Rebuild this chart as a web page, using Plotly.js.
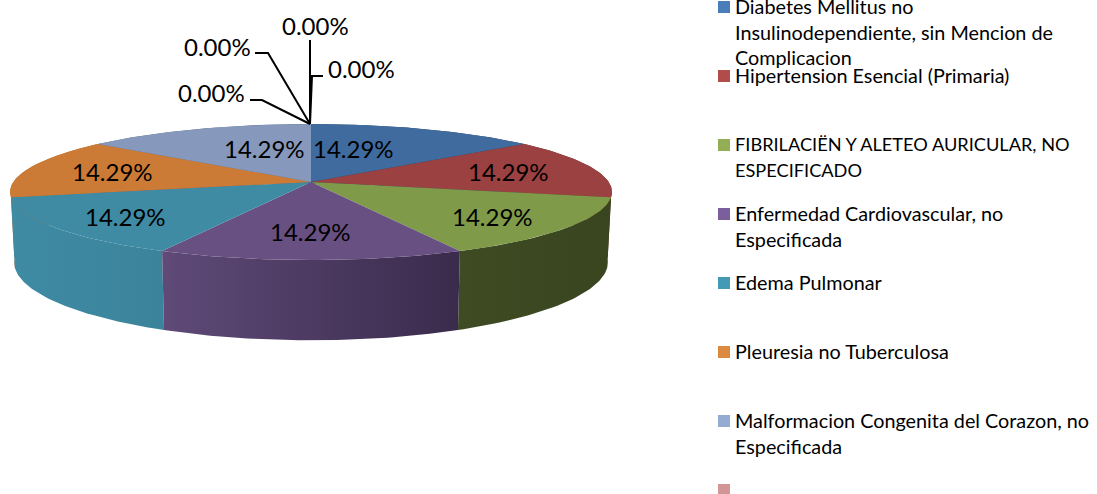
<!DOCTYPE html>
<html>
<head>
<meta charset="utf-8">
<script src="https://cdn.plot.ly/plotly-3.0.1.min.js"></script>
<style>html,body{margin:0;padding:0;background:#fff;overflow:hidden}</style>
</head>
<body>
<div id="chart" style="width:1097px;height:494px"></div>
<script>
// Data
const values = [1, 1, 1, 1, 1, 1, 1, 0, 0, 0, 0];
const categories = [
  "Diabetes Mellitus no Insulinodependiente, sin Mencion de Complicacion",
  "Hipertension Esencial (Primaria)",
  "FIBRILACIËN Y ALETEO AURICULAR, NO ESPECIFICADO",
  "Enfermedad Cardiovascular, no Especificada",
  "Edema Pulmonar",
  "Pleuresia no Tuberculosa",
  "Malformacion Congenita del Corazon, no Especificada",
  ""
];
const legendLines = [
  ["Diabetes Mellitus no", "Insulinodependiente, sin Mencion de", "Complicacion"],
  ["Hipertension Esencial (Primaria)"],
  ["FIBRILACIËN Y ALETEO AURICULAR, NO", "ESPECIFICADO"],
  ["Enfermedad Cardiovascular, no", "Especificada"],
  ["Edema Pulmonar"],
  ["Pleuresia no Tuberculosa"],
  ["Malformacion Congenita del Corazon, no", "Especificada"],
  []
];
const legendY = [7, 76, 145, 214, 283, 352, 421, 490];
const legendLineStep = 25.5;
const topColors = ["#3f6b9e", "#9c4141", "#7f9a48", "#685083", "#3e8ba3", "#cb7b36", "#8699bd"];
const swatchColors = ["#4a7ebb", "#b04c4a", "#93ae55", "#7a5f9c", "#439ab5", "#dc8a3f", "#94abd2", "#d39697"];
const sideScales = [
  ["#2a4466", "#2a4466"],
  ["#6a2c2c", "#6a2c2c"],
  ["#3f4b22", "#39451f"],
  ["#5f4a78", "#3a2b4c"],
  ["#3e8ba3", "#3b839b"],
  ["#b96f30", "#b96f30"],
  ["#5a6a88", "#5a6a88"]
];
const sliceLabelPos = [[353,148],[508,171],[492,216],[310,231],[125,216],[112,171],[264,148]];
const zeroLabelPos = [[211,92],[217,46],[315,25],[361,68]];
const zeroLeaders = [
  [[250,100],[262,100],[310,124]],
  [[255,53],[268,53],[310,124]],
  [[310,40],[310,124]],
  [[323,76],[312,76],[310,124]]
];

// Projection of the tilted disc
const cx = 311, cy = 182, R = 297.7, RY = 66.5, P = 0.147, D = 68.5, BOTTOM_X = 0.987;
function proj(deg, lower) {
  const t = deg * Math.PI / 180, s = 1 / (1 + P * Math.cos(t));
  return lower
    ? [cx + R * Math.sin(t) * s * BOTTOM_X, cy - RY * Math.cos(t) * s + D * s]
    : [cx + R * Math.sin(t) * s, cy - RY * Math.cos(t) * s];
}
const total = values.reduce((a, b) => a + b, 0);
const slices = [];
let acc = 0;
values.forEach((v, i) => {
  const a0 = acc / total * 360; acc += v;
  slices.push({ i, a0, a1: acc / total * 360, pct: (v / total * 100).toFixed(2) + "%" });
});
const visible = slices.filter(s => s.a1 > s.a0);
function arc(s, lower) {
  const out = [], n = 48;
  for (let k = 0; k <= n; k++) out.push(proj(s.a0 + (s.a1 - s.a0) * k / n, lower));
  return out;
}
const traces = [];
// sides, back to front
[...visible].sort((a, b) =>
  Math.cos((a.a0 + a.a1) * Math.PI / 360) < Math.cos((b.a0 + b.a1) * Math.PI / 360) ? 1 : -1
).forEach(s => {
  const pts = arc(s, false).concat(arc(s, true).reverse());
  pts.push(pts[0]);
  const c = sideScales[s.i];
  traces.push({
    type: "scatter", mode: "lines", x: pts.map(p => p[0]), y: pts.map(p => p[1]),
    fill: "toself", line: { width: 0, color: c[0] },
    fillgradient: { type: "horizontal", colorscale: [[0, c[0]], [1, c[1]]] },
    hoverinfo: "skip", showlegend: false
  });
});
// top faces
visible.forEach(s => {
  const pts = [[cx, cy]].concat(arc(s, false), [[cx, cy]]);
  traces.push({
    type: "scatter", mode: "lines", x: pts.map(p => p[0]), y: pts.map(p => p[1]),
    fill: "toself", fillcolor: topColors[s.i], line: { width: 0, color: topColors[s.i] },
    name: categories[s.i], hoverinfo: "skip", showlegend: false
  });
});
// leader lines
zeroLeaders.forEach(l => traces.push({
  type: "scatter", mode: "lines", x: l.map(p => p[0]), y: l.map(p => p[1]),
  line: { color: "#000", width: 2 }, hoverinfo: "skip", showlegend: false
}));
// legend swatches
traces.push({
  type: "scatter", mode: "markers",
  x: legendY.map(() => 724), y: legendY,
  marker: { symbol: "square", size: 12, color: swatchColors, line: { width: 0 } },
  hoverinfo: "skip", showlegend: false
});

const FONT = "Lato, Carlito, Calibri, sans-serif";
const annotations = [];
function addText(text, x, y, size, anchor) {
  annotations.push({ text, x, y, xref: "x", yref: "y", showarrow: false,
    xanchor: anchor, yanchor: "middle", font: { family: FONT, size, color: "#000" },
    borderpad: 0, borderwidth: 0 });
}
visible.forEach((s, k) => addText(s.pct, sliceLabelPos[k][0], sliceLabelPos[k][1], 24, "center"));
slices.filter(s => s.a1 === s.a0).forEach((s, k) => addText(s.pct, zeroLabelPos[k][0], zeroLabelPos[k][1], 24, "center"));
legendLines.forEach((lines, i) => lines.forEach((t, j) =>
  addText(t, 735, legendY[i] - 1 + j * legendLineStep, t === t.toUpperCase() ? 18.2 : 19.8, "left")));

Plotly.newPlot("chart", traces, {
  width: 1097, height: 494,
  margin: { l: 0, r: 0, t: 0, b: 0 },
  paper_bgcolor: "#fff", plot_bgcolor: "#fff",
  showlegend: false,
  xaxis: { range: [0, 1097], visible: false, fixedrange: true },
  yaxis: { range: [494, 0], visible: false, fixedrange: true },
  annotations
}, { displayModeBar: false, staticPlot: true });
</script>
</body>
</html>
